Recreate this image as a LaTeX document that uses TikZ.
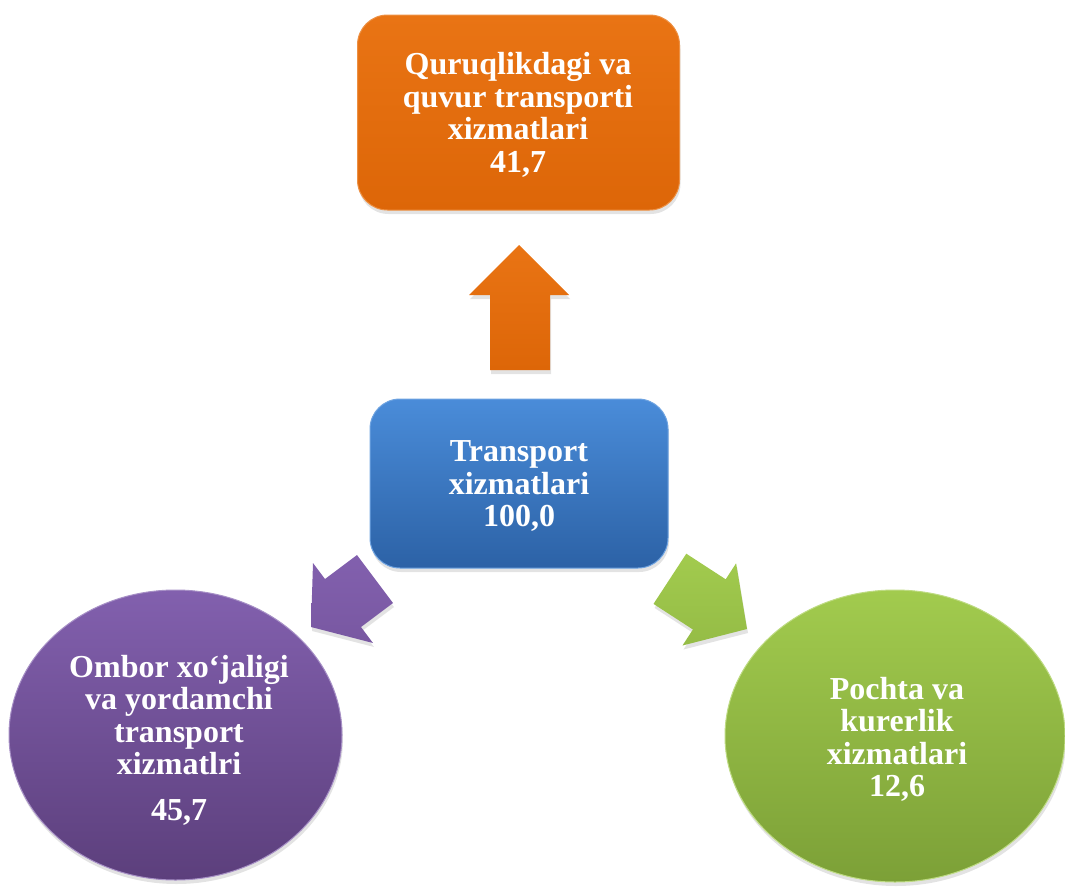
\documentclass[tikz,border=0pt]{standalone}
\usepackage{fontspec}
\setmainfont{Liberation Serif}
\usetikzlibrary{shapes.geometric,shadows}
\definecolor{orA}{HTML}{E97414}
\definecolor{orB}{HTML}{DD6608}
\definecolor{blA}{HTML}{4A8CD9}
\definecolor{blB}{HTML}{2C62A6}
\definecolor{puA}{HTML}{8260AE}
\definecolor{puB}{HTML}{5C3F7C}
\definecolor{grA}{HTML}{A2CB4E}
\definecolor{grB}{HTML}{7CA037}
\tikzset{
  lbl/.style={text=white, font=\bfseries\fontsize{32}{32.5}\selectfont, align=center, inner sep=0pt},
  shad/.style={drop shadow={opacity=0.22, shadow xshift=1pt, shadow yshift=-4pt}},
  orbox/.style={rectangle, rounded corners=30pt, top color=orA, bottom color=orB, draw=orA!80!white, line width=1pt, shad},
  blbox/.style={rectangle, rounded corners=30pt, top color=blA, bottom color=blB, draw=blA!80!white, line width=1pt, shad},
  puell/.style={ellipse, top color=puA, bottom color=puB, draw=puA!70!white, line width=1pt, shad},
  grell/.style={ellipse, top color=grA, bottom color=grB, draw=grA!70!white, line width=1pt, shad},
  orarrow/.style={top color=orA, bottom color=orB, shad},
  puarrow/.style={top color=puA, bottom color=puA!75!puB, shad},
  grarrow/.style={top color=grA, bottom color=grA!65!grB, shad},
}
\begin{document}
\begin{tikzpicture}[x=1pt,y=-1pt]
\useasboundingbox (0,0) rectangle (1065,886);
% shapes
\node[orbox, minimum width=322pt, minimum height=195pt, inner sep=0pt] (orange) at (518.5,112.5) {};
\node[blbox, minimum width=298pt, minimum height=169pt, inner sep=0pt] (blue) at (519,483.5) {};
\node[puell, minimum width=333pt, minimum height=290pt, inner sep=0pt] (purple) at (175.5,735) {};
\node[grell, minimum width=340pt, minimum height=292pt, inner sep=0pt] (green) at (895,736) {};
% block arrows
\path[orarrow] (519,245) -- (569,295) -- (550,295) -- (550,370) -- (490,370) -- (490,295) -- (469,295) -- cycle;
\path[puarrow] (311,627) -- (373,643) -- (361,627) -- (393,603) -- (357,555) -- (325,579) -- (313,563) -- cycle;
\path[grarrow] (747,629) -- (682.5,645.5) -- (692.9,629.5) -- (653.5,603.9) -- (686.3,553.7) -- (725.7,579.3) -- (736.1,563.3) -- cycle;
% labels
\node[lbl] (torange) at (518,117) {\strut Quruqlikdagi va\\\strut quvur transporti\\\strut xizmatlari\\\strut 41,7};
\node[lbl] (tblue) at (519,487.5) {\strut Transport\\\strut xizmatlari\\\strut 100,0};
\node[lbl] (tpurple) at (179,742) {\strut Ombor xo‘jaligi\\\strut va yordamchi\\\strut transport\\\strut xizmatlri\\[13pt]\strut 45,7};
\node[lbl] (tgreen) at (897,741.5) {\strut Pochta va\\\strut kurerlik\\\strut xizmatlari\\\strut 12,6};
\end{tikzpicture}
\end{document}
